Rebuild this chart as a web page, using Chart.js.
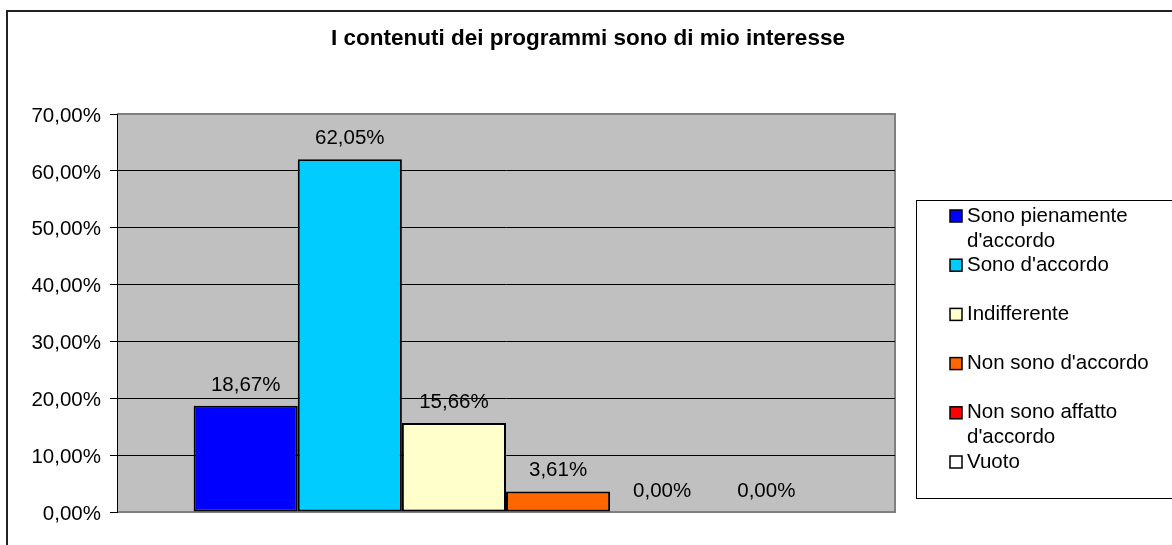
<!DOCTYPE html>
<html><head><meta charset="utf-8">
<script src="https://cdn.jsdelivr.net/npm/chart.js@4/dist/chart.umd.min.js"></script>
<style>html,body{margin:0;padding:0;background:#fff;overflow:hidden}#wrap{position:relative;width:1172px;height:545px}</style>
</head><body><div id="wrap"><canvas id="c" width="1172" height="545"></canvas></div>
<script>
const chartTitle = "I contenuti dei programmi sono di mio interesse";
const categories = [""];
const seriesNames = [["Sono pienamente","d'accordo"], ["Sono d'accordo"], ["Indifferente"], ["Non sono d'accordo"], ["Non sono affatto","d'accordo"], ["Vuoto"]];
const seriesValues = [18.67, 62.05, 15.66, 3.61, 0, 0];
const seriesColors = ["#0000FF","#00CCFF","#FFFFCC","#FF6600","#FF0000","#FFFFFF"];
const yMin = 0, yMax = 70, yStep = 10;

const FONT = '"Liberation Sans", Arial, sans-serif';
const fmt = v => v.toFixed(2).replace('.', ',') + '%';

const framePlugin = {
  id: 'frame',
  beforeDraw(chart) {
    const c = chart.ctx, a = chart.chartArea;
    c.save();
    c.fillStyle = '#fff';
    c.fillRect(0, 0, chart.width, chart.height);
    c.strokeStyle = '#222';
    c.lineWidth = 2;
    c.beginPath();
    c.moveTo(7, 550); c.lineTo(7, 11); c.lineTo(1180, 11);
    c.stroke();
    c.fillStyle = '#C0C0C0';
    c.fillRect(a.left, a.top, a.right - a.left, a.bottom - a.top);
    c.strokeStyle = '#808080';
    c.lineWidth = 2;
    c.beginPath();
    c.moveTo(a.left, a.top); c.lineTo(a.right, a.top); c.lineTo(a.right, a.bottom); c.lineTo(a.left, a.bottom);
    c.stroke();
    c.fillStyle = '#000';
    c.font = 'bold 22.5px ' + FONT;
    c.textAlign = 'center';
    c.textBaseline = 'middle';
    c.fillText(chartTitle, 588, 39);
    c.restore();
  },
  afterDatasetsDraw(chart) {
    const c = chart.ctx;
    c.save();
    c.fillStyle = '#000';
    c.font = '20.5px ' + FONT;
    c.textAlign = 'center';
    c.textBaseline = 'middle';
    chart.data.datasets.forEach((ds, i) => {
      const el = chart.getDatasetMeta(i).data[0];
      c.fillText(fmt(ds.data[0]), el.x, el.y - 21);
    });
    c.restore();
  },
  afterDraw(chart) {
    const c = chart.ctx;
    c.save();
    c.strokeStyle = '#000';
    c.lineWidth = 1;
    c.strokeRect(916.5, 200.5, 300, 298);
    c.font = '20.5px ' + FONT;
    c.textAlign = 'left';
    c.textBaseline = 'middle';
    chart.data.datasets.forEach((ds, i) => {
      const y0 = 216 + i * 49.2;
      c.fillStyle = ds.backgroundColor;
      c.fillRect(950, y0 - 6, 12, 12);
      c.strokeStyle = '#000';
      c.lineWidth = 1.5;
      c.strokeRect(950, y0 - 6, 12, 12);
      c.fillStyle = '#000';
      seriesNames[i].forEach((t, j) => c.fillText(t, 967, y0 + j * 25));
    });
    c.restore();
  }
};

new Chart(document.getElementById('c'), {
  type: 'bar',
  data: {
    labels: categories,
    datasets: seriesValues.map((v, i) => ({
      label: seriesNames[i].join(' '),
      data: [v],
      backgroundColor: seriesColors[i],
      borderColor: '#000',
      borderWidth: 2,
      borderSkipped: false,
      barPercentage: 1,
      categoryPercentage: 0.803
    }))
  },
  options: {
    responsive: false,
    animation: false,
    devicePixelRatio: 1,
    layout: { padding: { left: 0, top: 114, right: 277, bottom: 33 } },
    plugins: { legend: { display: false }, title: { display: false }, tooltip: { enabled: false } },
    scales: {
      x: { display: false },
      y: {
        min: yMin, max: yMax,
        afterFit: s => { s.width = 117; },
        ticks: { stepSize: yStep, callback: v => fmt(v), color: '#000', font: { family: FONT, size: 20.5 }, padding: 9, labelOffset: 2 },
        grid: {
          color: ctx => (ctx.tick && (ctx.tick.value === yMin || ctx.tick.value === yMax)) ? 'rgba(0,0,0,0)' : '#000',
          tickColor: '#000', tickLength: 7, lineWidth: 1
        },
        border: { color: '#000', width: 1 }
      }
    }
  },
  plugins: [framePlugin]
});
</script></body></html>
